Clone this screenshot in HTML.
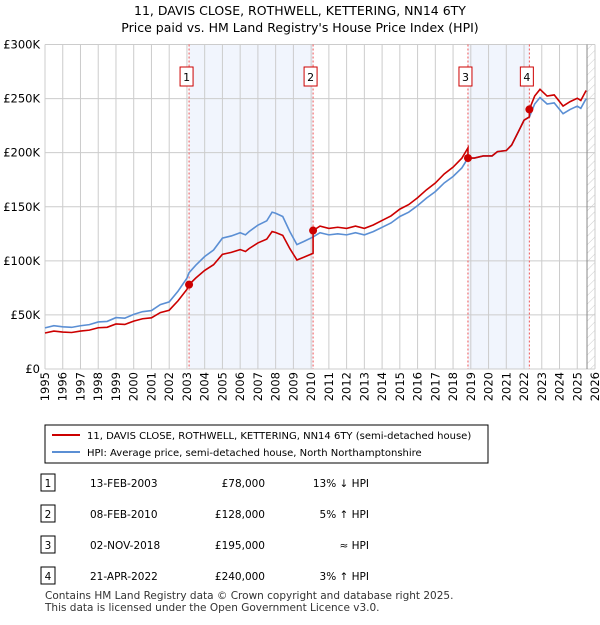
<!DOCTYPE html>
<html><head><meta charset="utf-8"><style>
body{margin:0;background:#fff;font-family:"Liberation Sans","DejaVu Sans",sans-serif;}
svg text{font-family:"DejaVu Sans","Liberation Sans",sans-serif;}
</style></head><body>
<svg id="c" width="600" height="620" xmlns="http://www.w3.org/2000/svg">
<text x="300" y="15" text-anchor="middle" font-size="12.5">11, DAVIS CLOSE, ROTHWELL, KETTERING, NN14 6TY</text>
<text x="300" y="32" text-anchor="middle" font-size="12.5">Price paid vs. HM Land Registry's House Price Index (HPI)</text>
<defs><pattern id="hatch" width="6" height="6" patternUnits="userSpaceOnUse" patternTransform="rotate(45)"><line x1="0" y1="0" x2="0" y2="6" stroke="#ccc" stroke-width="1"/></pattern></defs>
<g id="plot"></g>
<rect x="45" y="425" width="443" height="38" fill="#fff" stroke="#000" stroke-width="1"/>
<line x1="52" y1="435" x2="80" y2="435" stroke="#cc0000" stroke-width="2"/>
<text x="87" y="439" font-size="10">11, DAVIS CLOSE, ROTHWELL, KETTERING, NN14 6TY (semi-detached house)</text>
<line x1="52" y1="452" x2="80" y2="452" stroke="#5b8fd4" stroke-width="2"/>
<text x="87" y="456" font-size="10">HPI: Average price, semi-detached house, North Northamptonshire</text>
<g id="table" font-size="10.5"></g>
<text x="45" y="599" font-size="10.5" fill="#333">Contains HM Land Registry data © Crown copyright and database right 2025.</text>
<text x="45" y="611" font-size="10.5" fill="#333">This data is licensed under the Open Government Licence v3.0.</text>
</svg>
<script>
const hpiYears=[1995,1995.5,1996,1996.5,1997,1997.5,1998,1998.5,1999,1999.5,2000,2000.5,2001,2001.5,2002,2002.5,2003,2003.12,2003.5,2004,2004.5,2005,2005.5,2006,2006.3,2006.5,2007,2007.5,2007.8,2008,2008.4,2008.8,2009.2,2009.6,2010.1,2010.5,2011,2011.5,2012,2012.5,2013,2013.5,2014,2014.5,2015,2015.5,2016,2016.5,2017,2017.5,2018,2018.5,2018.84,2019.2,2019.7,2020.2,2020.5,2021,2021.3,2021.7,2022,2022.3,2022.6,2022.9,2023.3,2023.7,2024.2,2024.6,2025,2025.2,2025.5];
const hpiValues=[38,40,39,38.5,40,41,43.5,44,47.5,47,50.5,53,54,59.5,62,72,84,89,96,104,110,121,123,126,124,127,133,137,145,144,141,127,115,118,122,126,124,125,124,126,124,127,131,135,141,145,151,158,164,172,178,186,195,195,197,197,201,202,207,220,230,233,245,251,245,246,236,240,243,241,250];
const saleDates=[2003.12,2010.11,2018.84,2022.3];
const salePrices=[78,128,195,240];
const saleLabels=["1","2","3","4"];
const saleDateText=["13-FEB-2003","08-FEB-2010","02-NOV-2018","21-APR-2022"];
const salePriceText=["£78,000","£128,000","£195,000","£240,000"];
const saleHpiText=["13% ↓ HPI","5% ↑ HPI","≈ HPI","3% ↑ HPI"];
const yTicks=[0,50,100,150,200,250,300];
const yTickLabels=["£0","£50K","£100K","£150K","£200K","£250K","£300K"];
const NS="http://www.w3.org/2000/svg";
const X0=45,X1=595,Y0=369,Y1=44.5;
const xs=y=>X0+(y-1995)/31*(X1-X0);
const ys=v=>Y0-v/300*(Y0-Y1);
function mk(tag,at,parent){const e=document.createElementNS(NS,tag);for(const k in at)e.setAttribute(k,at[k]);parent.appendChild(e);return e;}
const g=document.getElementById('plot');
function hpiAt(t){for(let i=0;i<hpiYears.length-1;i++){if(t<=hpiYears[i+1]){const f=(t-hpiYears[i])/(hpiYears[i+1]-hpiYears[i]);return hpiValues[i]+f*(hpiValues[i+1]-hpiValues[i]);}}return hpiValues[hpiValues.length-1];}
let r=mk('rect',{x:xs(saleDates[0]),y:Y1,width:xs(saleDates[1])-xs(saleDates[0]),height:Y0-Y1,fill:'#eef2fc',opacity:0.8},g);

r=mk('rect',{x:xs(saleDates[2]),y:Y1,width:xs(saleDates[3])-xs(saleDates[2]),height:Y0-Y1,fill:'#eef2fc',opacity:0.8},g);

r=mk('rect',{x:xs(2025.55),y:Y1,width:X1-xs(2025.55),height:Y0-Y1,fill:'url(#hatch)'},g);

for(let yr=1995;yr<=2026;yr++){const x=xs(yr);
 const l=mk('line',{x1:x,y1:Y1,x2:x,y2:Y0,stroke:'#ccc','stroke-width':1},g);
 
 const t=mk('text',{x:0,y:0,transform:`translate(${x+4},${Y0+3}) rotate(-90)`,'text-anchor':'end','font-size':11.5},g);
 t.textContent=yr;}
yTicks.forEach((v,i)=>{const y=ys(v);
 const l=mk('line',{x1:X0,y1:y,x2:X1,y2:y,stroke:'#ccc','stroke-width':1},g);
 
 const t=mk('text',{x:40,y:y+4,'text-anchor':'end','font-size':11.5},g);
 t.textContent=yTickLabels[i];});
r=mk('line',{x1:xs(2025.55),y1:Y1,x2:xs(2025.55),y2:Y0,stroke:'#888','stroke-width':1},g);

saleDates.forEach((d,i)=>{const x=xs(d);
 const l=mk('line',{x1:x,y1:Y1,x2:x,y2:Y0,stroke:'#ee5555','stroke-width':1,'stroke-dasharray':'2,2'},g);
 
 const b=mk('rect',{x:x-9,y:67,width:13,height:19,fill:'#fff',stroke:'#cc0000'},g);
 
 const t=mk('text',{x:x-2.5,y:81,'text-anchor':'middle','font-size':11},g);
 t.textContent=saleLabels[i];});
let pts=hpiYears.map((y,i)=>xs(y)+','+ys(hpiValues[i])).join(' ');
r=mk('polyline',{points:pts,fill:'none',stroke:'#5b8fd4','stroke-width':1.6},g);

function ratioAt(t){let k=0;for(let i=0;i<saleDates.length;i++){if(t>=saleDates[i])k=i;}return salePrices[k]/hpiAt(saleDates[k]);}
let rp=[];
hpiYears.forEach((y,i)=>{
 saleDates.forEach((d,j)=>{if(i>0&&d>hpiYears[i-1]&&d<=y){const pr=j>0?salePrices[j-1]/hpiAt(saleDates[j-1]):salePrices[0]/hpiAt(saleDates[0]);rp.push(xs(d)+','+ys(hpiAt(d)*pr));rp.push(xs(d)+','+ys(salePrices[j]));}});
 rp.push(xs(y)+','+ys(hpiValues[i]*ratioAt(y)));});
r=mk('polyline',{points:rp.join(' '),fill:'none',stroke:'#cc0000','stroke-width':1.6},g);

saleDates.forEach((d,i)=>{const c=mk('circle',{cx:xs(d),cy:ys(salePrices[i]),r:4,fill:'#cc0000'},g);
 });
const tb=document.getElementById('table');
saleDates.forEach((d,i)=>{const y=483+i*31;
 const b=mk('rect',{x:41,y:y-9,width:14,height:17,fill:'#fff',stroke:'#000'},tb);
 
 let t=mk('text',{x:48,y:y+4,'text-anchor':'middle'},tb);t.textContent=saleLabels[i];
 
 t=mk('text',{x:90,y:y+4},tb);t.textContent=saleDateText[i];
 
 t=mk('text',{x:265,y:y+4,'text-anchor':'end'},tb);t.textContent=salePriceText[i];
 
 t=mk('text',{x:369,y:y+4,'text-anchor':'end'},tb);t.textContent=saleHpiText[i];
 });
</script>
</body></html>
